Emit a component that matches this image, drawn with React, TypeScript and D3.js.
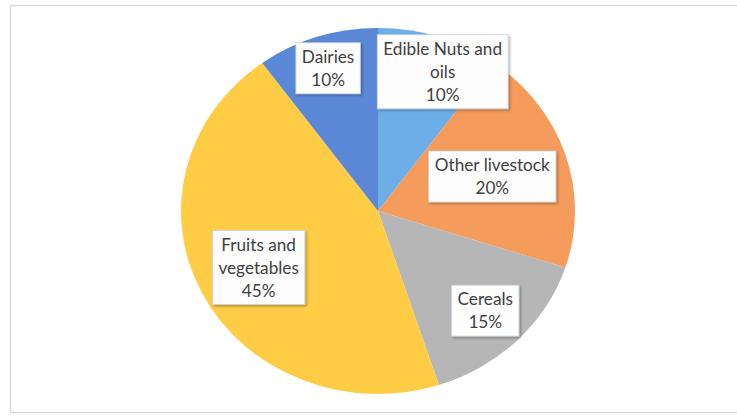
import React, { useEffect, useRef } from "react";
import * as d3 from "d3";

const categories = ["Edible Nuts and oils", "Other livestock", "Cereals", "Fruits and vegetables", "Dairies"];
const values = [10, 20, 15, 45, 10];
const labelLines = [
  ["Edible Nuts and", "oils"],
  ["Other livestock"],
  ["Cereals"],
  ["Fruits and", "vegetables"],
  ["Dairies"],
];
const colors = ["#6DAEE8", "#F59B5C", "#B6B6B6", "#FFCC45", "#5B88D6"];
// label placement: fraction of radius along slice mid-angle, plus horizontal nudge
const labelRadius = [0.8, 0.61, 0.77, 0.68, 0.82];
const labelNudge = [16, 0, 0, 0, 0];

const W = 737;
const H = 416;
const cx = 378;
const cy = 211;
const rx = 197;
const ry = 183;

export default function App() {
  const ref = useRef<SVGSVGElement>(null);

  useEffect(() => {
    const svg = d3.select(ref.current);
    svg.selectAll("*").remove();

    const defs = svg.append("defs");
    const f = defs.append("filter").attr("id", "sh").attr("x", "-20%").attr("y", "-20%").attr("width", "140%").attr("height", "140%");
    f.append("feDropShadow").attr("dx", 1.5).attr("dy", 1.5).attr("stdDeviation", 1.2).attr("flood-color", "#000").attr("flood-opacity", 0.3);

    svg.append("rect").attr("width", W).attr("height", H).attr("fill", "#fff");
    svg.append("rect")
      .attr("x", 10.5).attr("y", 5.5).attr("width", W + 10).attr("height", 407)
      .attr("fill", "none").attr("stroke", "#dadada").attr("stroke-width", 1.5);

    const total = d3.sum(values);
    const pie = d3.pie<number>().sort(null).value((d) => d);
    const arcs = pie(values);
    const arc = d3.arc<d3.PieArcDatum<number>>().innerRadius(0).outerRadius(rx);

    const g = svg.append("g").attr("transform", `translate(${cx},${cy}) scale(1,${ry / rx})`);
    g.selectAll("path").data(arcs).join("path")
      .attr("d", arc as any)
      .attr("fill", (_d, i) => colors[i]);

    const lg = svg.append("g");
    const lineH = 23;
    arcs.forEach((a, i) => {
      const mid = (a.startAngle + a.endAngle) / 2;
      const x = cx + labelRadius[i] * rx * Math.sin(mid) + labelNudge[i];
      const y = cy - labelRadius[i] * ry * Math.cos(mid);
      const lines = [...labelLines[i], d3.format(".0%")(values[i] / total)];
      const grp = lg.append("g");
      const rect = grp.append("rect").attr("fill", "#fdfdfd").attr("stroke", "#c9d3de").attr("stroke-width", 0.8).attr("filter", "url(#sh)");
      const t = grp.append("text")
        .attr("font-family", "Lato, 'Open Sans', sans-serif")
        .attr("font-size", 17.2)
        .attr("fill", "#3f3f3f")
        .attr("text-anchor", "middle");
      const n = lines.length;
      lines.forEach((ln, k) => {
        t.append("tspan").attr("x", x).attr("y", y + (k - (n - 1) / 2) * lineH).attr("dy", "0.35em").text(ln);
      });
      const bb = (t.node() as SVGTextElement).getBBox();
      const bw = bb.width + 12;
      const bh = n * lineH + 5;
      rect.attr("x", x - bw / 2).attr("y", y - bh / 2).attr("width", bw).attr("height", bh);
    });
  }, []);

  return (
    <svg
      ref={ref}
      width={W}
      height={H}
      style={{ position: "absolute", left: 0, top: 0, display: "block" }}
    />
  );
}
